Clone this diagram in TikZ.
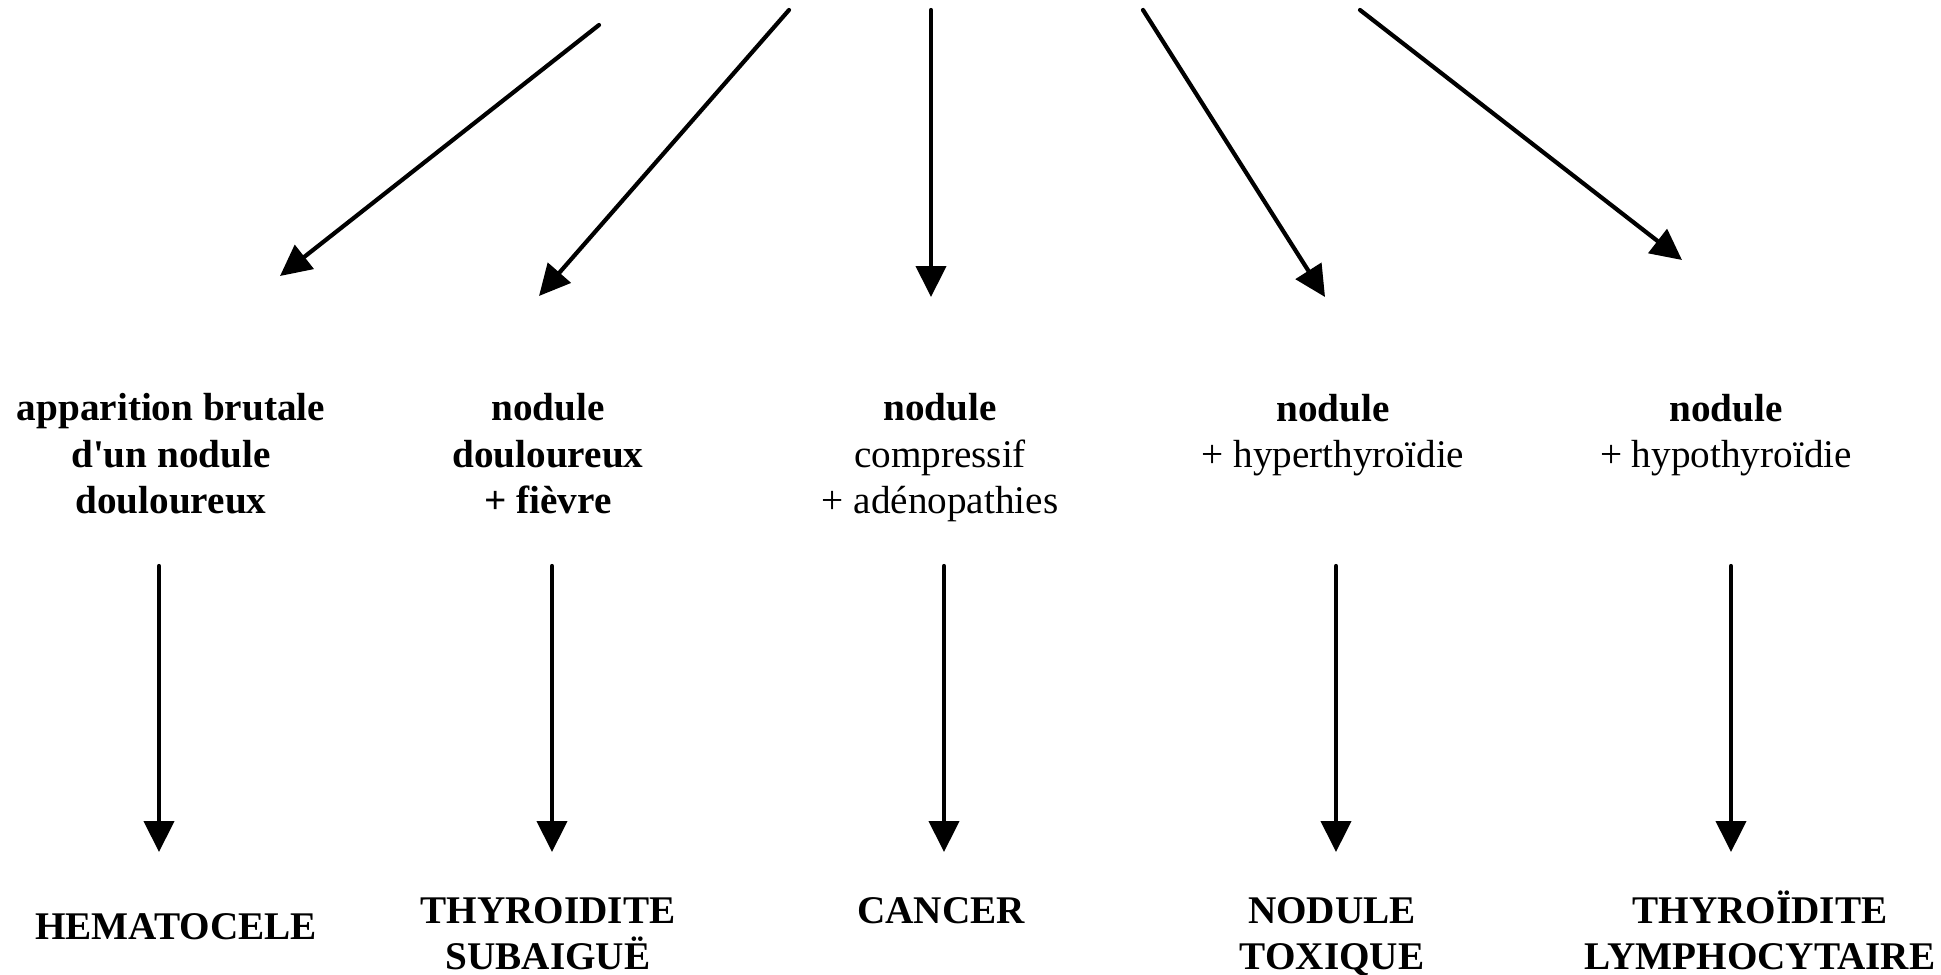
\documentclass[tikz,border=0pt]{standalone}
\usepackage{fontspec}
\setmainfont{Liberation Serif}
\usetikzlibrary{arrows.meta}
\begin{document}
\begin{tikzpicture}[x=0.5pt,y=-0.5pt,
  arr/.style={line width=2.1pt,line cap=round,-{Triangle[length=15.5pt,width=15pt]}},
  lbl/.style={align=center,inner sep=0pt,font=\fontsize{19.6}{23.3}\selectfont},
  ttl/.style={align=center,inner sep=0pt,font=\fontsize{19.6}{23.3}\selectfont\bfseries}]
\useasboundingbox[fill=white] (0,0) rectangle (1941,974);
% top arrows
\coordinate (t1s) at (599,25);   \coordinate (t1e) at (280,276);
\coordinate (t2s) at (789,10);   \coordinate (t2e) at (539,296);
\coordinate (t3s) at (931,10);   \coordinate (t3e) at (931,297);
\coordinate (t4s) at (1143,10);  \coordinate (t4e) at (1325,297);
\coordinate (t5s) at (1360,10);  \coordinate (t5e) at (1682,260);
\foreach \i in {1,...,5} \draw[arr] (t\i s) -- (t\i e);
% middle texts
\node[ttl] (m1) at (171,458) {\strut apparition brutale\\\strut d\textquotesingle un nodule\\\strut douloureux};
\node[ttl] (m2) at (548,458) {\strut nodule\\\strut douloureux\\\strut + fièvre};
\node[lbl] (m3) at (940,458) {\strut\textbf{nodule}\\\strut compressif\\\strut + adénopathies};
\node[lbl] (m4) at (1333,435) {\strut\textbf{nodule}\\\strut + hyperthyroïdie};
\node[lbl] (m5) at (1726,435) {\strut\textbf{nodule}\\\strut + hypothyroïdie};
% vertical arrows
\coordinate (v1s) at (159,566);  \coordinate (v1e) at (159,852);
\coordinate (v2s) at (552,566);  \coordinate (v2e) at (552,852);
\coordinate (v3s) at (944,566);  \coordinate (v3e) at (944,852);
\coordinate (v4s) at (1336,566); \coordinate (v4e) at (1336,852);
\coordinate (v5s) at (1731,566); \coordinate (v5e) at (1731,852);
\foreach \i in {1,...,5} \draw[arr] (v\i s) -- (v\i e);
% bottom texts
\node[ttl] (b1) at (176,930) {\strut HEMATOCELE};
\node[ttl] (b2) at (548,937) {\strut THYROIDITE\\\strut SUBAIGUË};
\node[ttl] (b3) at (941,914) {\strut CANCER};
\node[ttl] (b4) at (1332,937) {\strut NODULE\\\strut TOXIQUE};
\node[ttl] (b5) at (1760,937) {\strut THYROÏDITE\\\strut LYMPHOCYTAIRE};
\end{tikzpicture}
\end{document}
